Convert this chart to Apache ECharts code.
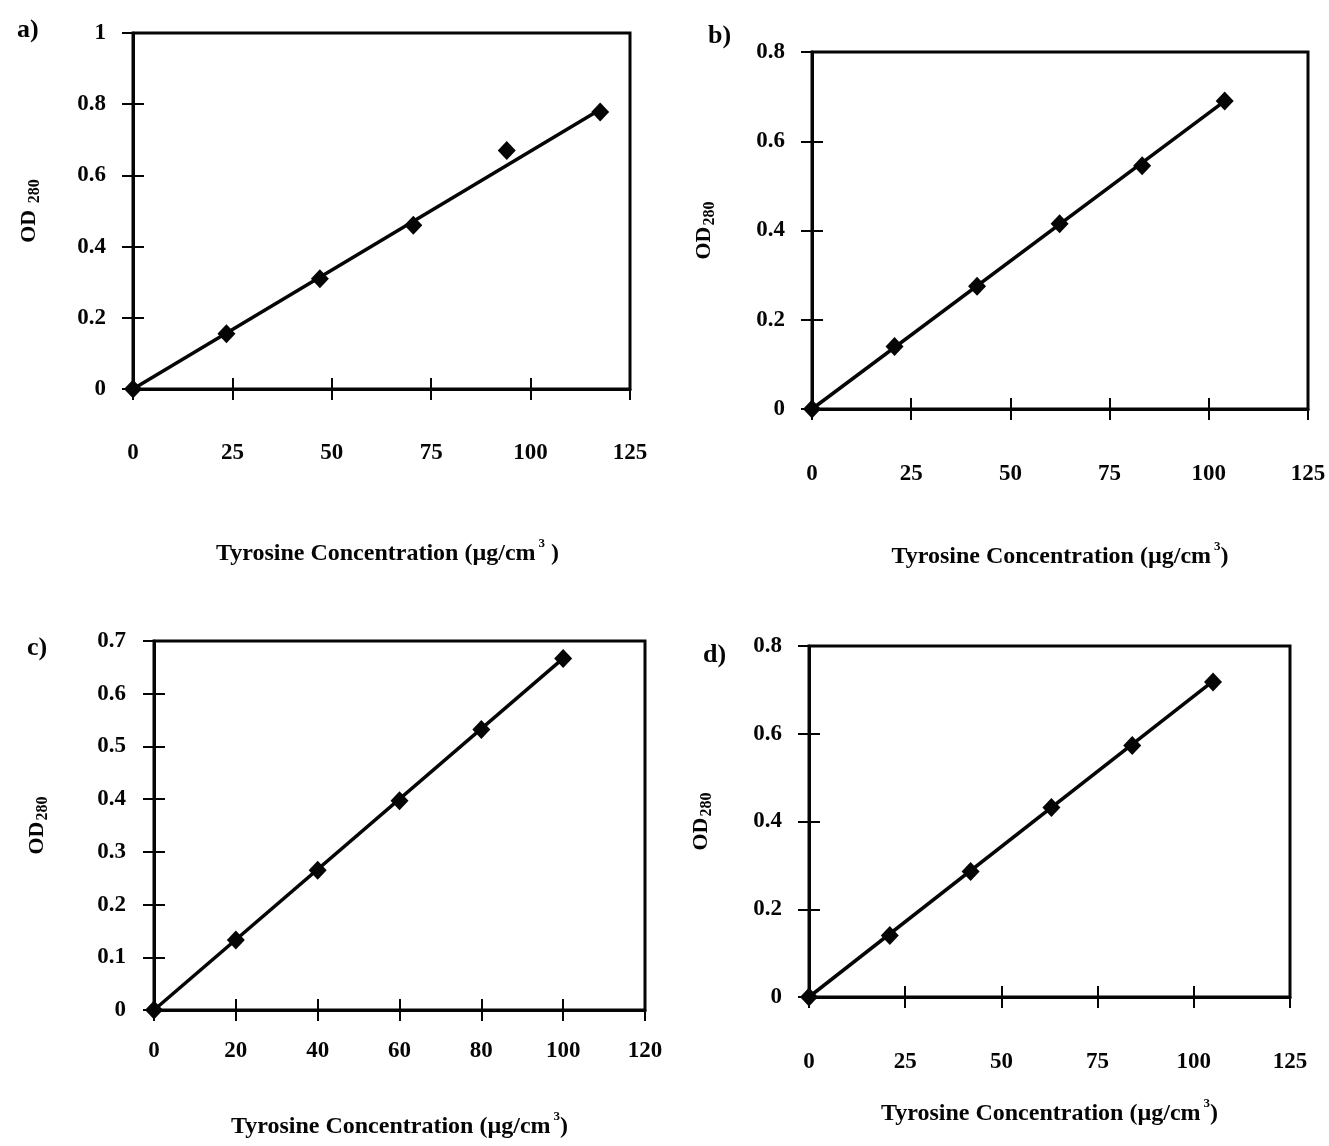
<!DOCTYPE html>
<html><head><meta charset="utf-8">
<script src="https://cdn.jsdelivr.net/npm/echarts@6/dist/echarts.min.js"></script>
<style>html,body{margin:0;padding:0;background:#fff}#c{width:1329px;height:1146px}</style>
</head><body><div id="c"></div>
<script>
// Panel a
const aX = [0, 23.5, 47, 70.5, 94, 117.5];
const aY = [0, 0.155, 0.31, 0.46, 0.67, 0.778];
const aTrendX = [0, 117.5];
const aTrendY = [0, 0.785];
// Panel b
const bX = [0, 20.8, 41.6, 62.4, 83.2, 104];
const bY = [0, 0.14, 0.275, 0.415, 0.545, 0.69];
const bTrendX = [0, 104];
const bTrendY = [0, 0.69];
// Panel c
const cX = [0, 20, 40, 60, 80, 100];
const cY = [0, 0.133, 0.265, 0.397, 0.532, 0.667];
const cTrendX = [0, 100];
const cTrendY = [0, 0.667];
// Panel d
const dX = [0, 21, 42, 63, 84, 105];
const dY = [0, 0.14, 0.286, 0.432, 0.573, 0.718];
const dTrendX = [0, 105];
const dTrendY = [0, 0.72];
// axis scales
const panelLabels = ['a)', 'b)', 'c)', 'd)'];
const xMax = [125, 125, 120, 125];
const xStep = [25, 25, 20, 25];
const yMax = [1, 0.8, 0.7, 0.8];
const yStep = [0.2, 0.2, 0.1, 0.2];
const xTitles = ['Tyrosine Concentration (\u00b5g/cm{sup|3} )', 'Tyrosine Concentration (\u00b5g/cm{sup|3})',
                 'Tyrosine Concentration (\u00b5g/cm{sup|3})', 'Tyrosine Concentration (\u00b5g/cm{sup|3})'];
const yTitles = ['OD {sub|280}', 'OD{sub|280}', 'OD{sub|280}', 'OD{sub|280}'];

const FONT = '"Liberation Serif", "Times New Roman", serif';
const INK = '#050505';

const grids = [
  {left: 133, top: 33, width: 497, height: 356},
  {left: 812, top: 52, width: 496, height: 357},
  {left: 154, top: 641, width: 491, height: 369},
  {left: 809, top: 646, width: 481, height: 351}
];
const xLabelMargin = [53, 54, 30, 54];
const yLabelMargin = [27, 27, 28, 27];
const xNameGap = [148, 131, 100, 100];
const yNameGap = [90, 94, 103, 94];
const xNamePadLeft = [12, 0, 0, 0];
const labelPos = [[12, 12], [703, 18], [22, 630], [698, 637]];

const allX = [aX, bX, cX, dX];
const allY = [aY, bY, cY, dY];
const trendX = [aTrendX, bTrendX, cTrendX, dTrendX];
const trendY = [aTrendY, bTrendY, cTrendY, dTrendY];

const option = {
  backgroundColor: '#fff',
  animation: false,
  title: panelLabels.map((t, i) => ({
    text: t, left: labelPos[i][0], top: labelPos[i][1],
    textStyle: {fontFamily: FONT, fontWeight: 'bold', fontSize: 26, color: INK}
  })),
  grid: grids.map(g => Object.assign({show: true, borderColor: INK, borderWidth: 3, backgroundColor: 'transparent', containLabel: false}, g)),
  xAxis: [], yAxis: [], series: []
};

for (let i = 0; i < 4; i++) {
  const tickLen = 11;
  option.xAxis.push({
    type: 'value', gridIndex: i, position: 'bottom', min: 0, max: xMax[i], interval: xStep[i],
    axisLine: {show: true, onZero: false, lineStyle: {color: INK, width: 3}},
    axisTick: {show: true, inside: false, length: tickLen, lineStyle: {color: INK, width: 2}},
    axisLabel: {margin: xLabelMargin[i], fontFamily: FONT, fontWeight: 'bold', fontSize: 23, color: INK},
    splitLine: {show: false},
    name: xTitles[i], nameLocation: 'middle', nameGap: xNameGap[i],
    nameTextStyle: {fontFamily: FONT, fontWeight: 'bold', fontSize: 24, color: INK, padding: [0, 0, 0, xNamePadLeft[i]],
      rich: {sup: {fontFamily: FONT, fontWeight: 'bold', fontSize: 13, color: INK, padding: [0, 0, 20, 3]}}}
  });
  option.xAxis.push({
    type: 'value', gridIndex: i, position: 'bottom', min: 0, max: xMax[i], interval: xStep[i],
    axisLine: {show: false, onZero: false},
    axisTick: {show: true, inside: true, length: tickLen, lineStyle: {color: INK, width: 2}},
    axisLabel: {show: false}, splitLine: {show: false}
  });
  option.yAxis.push({
    type: 'value', gridIndex: i, position: 'left', min: 0, max: yMax[i], interval: yStep[i],
    axisLine: {show: true, onZero: false, lineStyle: {color: INK, width: 3}},
    axisTick: {show: true, inside: false, length: tickLen, lineStyle: {color: INK, width: 2}},
    axisLabel: {margin: yLabelMargin[i], fontFamily: FONT, fontWeight: 'bold', fontSize: 23, color: INK,
      formatter: v => (Math.round(v * 10) / 10).toString()},
    splitLine: {show: false},
    name: yTitles[i], nameLocation: 'middle', nameGap: yNameGap[i],
    nameTextStyle: {fontFamily: FONT, fontWeight: 'bold', fontSize: 22, color: INK,
      rich: {sub: {fontFamily: FONT, fontWeight: 'bold', fontSize: 16, color: INK, padding: [12, 0, 0, 1]}}}
  });
  option.yAxis.push({
    type: 'value', gridIndex: i, position: 'left', min: 0, max: yMax[i], interval: yStep[i],
    axisLine: {show: false, onZero: false},
    axisTick: {show: true, inside: true, length: tickLen, lineStyle: {color: INK, width: 2}},
    axisLabel: {show: false}, splitLine: {show: false}
  });
  option.series.push({
    type: 'line', xAxisIndex: 2 * i, yAxisIndex: 2 * i,
    data: trendX[i].map((x, k) => [x, trendY[i][k]]),
    showSymbol: false, symbol: 'none', lineStyle: {color: INK, width: 3.5}, z: 2
  });
  option.series.push({
    type: 'scatter', xAxisIndex: 2 * i, yAxisIndex: 2 * i,
    data: allX[i].map((x, k) => [x, allY[i][k]]),
    symbol: 'diamond', symbolSize: [18, 19], itemStyle: {color: INK, opacity: 1}, z: 3
  });
}

const chart = echarts.init(document.getElementById('c'), null, {renderer: 'canvas'});
chart.setOption(option);
</script>
</body></html>
